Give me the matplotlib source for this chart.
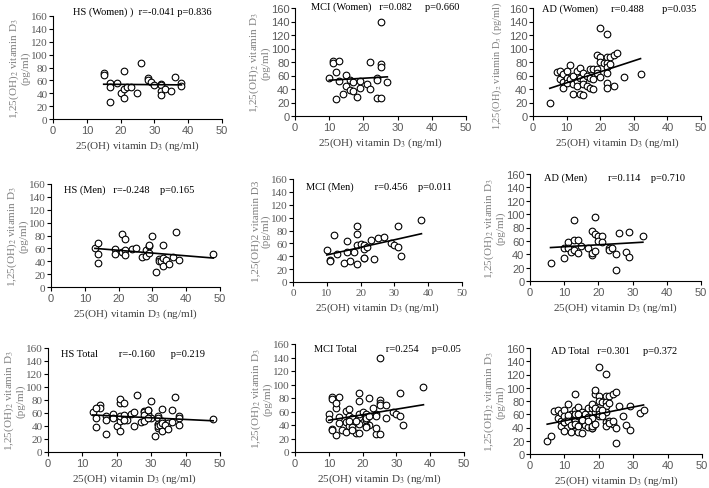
import matplotlib
matplotlib.use("Agg")
import matplotlib.pyplot as plt

plt.rcParams["font.family"] = ["Liberation Serif", "DejaVu Serif"]
plt.rcParams["mathtext.fontset"] = "stix"

# HS (healthy subjects)
hs_w_x = [15, 15, 17, 17, 17, 19, 20, 21, 21, 21, 22, 23, 25, 26, 28, 28, 29, 30,
          32, 32, 32, 32, 33, 35, 36, 38, 38]
hs_w_y = [72, 68, 56, 50, 27, 56, 40, 75, 33, 47, 49, 49, 40, 87, 63, 61, 58, 53,
          55, 53, 43, 37, 47, 44, 65, 56, 52]
hs_m_x = [13, 14, 14, 14, 19, 19, 21, 21, 22, 22, 22, 24, 25, 27, 28, 28, 29, 29,
          29, 30, 31, 32, 32, 32.5, 33, 33, 33, 34, 35, 36, 37, 38, 48]
hs_m_y = [61, 68, 52, 38, 59, 52, 82, 55, 75, 57, 49, 59, 61, 46, 57, 48, 64, 65,
          53, 79, 24, 43, 40, 41, 66, 45, 32, 42, 35, 46, 85, 42, 51]

# MCI
mci_w_x = [10, 11, 11, 12, 12, 13, 13, 14, 15, 15, 16, 16, 17, 17, 18, 19, 19, 21,
           22, 22, 24, 24, 24, 25, 25, 25, 25, 27]
mci_w_y = [56, 81, 78, 65, 25, 82, 52, 32, 61, 44, 53, 38, 50, 37, 28, 42, 52, 47,
           80, 40, 56, 54, 27, 140, 77, 72, 27, 51]
mci_m_x = [10, 11, 11, 12, 13, 15, 16, 16, 17, 18, 19, 19, 19, 19, 20, 21, 21, 21,
           21, 22, 23, 24, 25, 27, 29, 30, 31, 31, 32, 38]
mci_m_y = [49, 34, 32, 73, 43, 30, 64, 46, 32, 46, 87, 75, 28, 57, 59, 57, 51, 38,
           37, 54, 65, 36, 69, 70, 60, 57, 87, 54, 40, 97]

# AD
ad_w_x = [5, 7, 8, 8, 9, 9, 9, 10, 10, 10, 11, 11, 12, 12, 12, 13, 13, 13, 14, 14,
          14, 15, 15, 15, 15, 16, 16, 17, 17, 17, 18, 18, 18, 19, 19, 19, 20, 20,
          20, 20, 21, 22, 22, 22, 22, 22, 22, 22, 23, 23, 24, 24, 25, 27, 32]
ad_w_y = [19, 65, 66, 55, 62, 50, 42, 66, 57, 49, 75, 55, 60, 47, 33, 67, 52, 44,
          71, 57, 33, 64, 53, 47, 31, 60, 44, 69, 56, 41, 69, 55, 40, 91, 69, 63,
          131, 87, 80, 58, 78, 121, 87, 78, 72, 64, 49, 42, 88, 77, 90, 45, 94, 58,
          62]
ad_m_x = [6, 10, 10, 11, 11, 12, 13, 13, 13, 14, 14, 15, 17, 18, 18, 18, 19, 19,
          19, 20, 20, 21, 21, 23, 23, 24, 25, 25, 26, 28, 29, 29, 33]
ad_m_y = [27, 49, 35, 59, 50, 44, 91, 61, 46, 61, 42, 52, 50, 75, 39, 42, 96, 70,
          45, 67, 60, 67, 58, 50, 47, 50, 40, 17, 72, 44, 73, 36, 67]

# trend lines: (x start, x end), (y start, y end)
fits = [
    ([15, 38], [54, 53]),
    ([10, 27], [53, 58]),
    ([5, 32], [41, 85]),
    ([13, 48], [60, 45]),
    ([10, 38], [42, 75]),
    ([6, 33], [50, 58]),
    ([13, 48], [57, 48]),
    ([10, 38], [47, 70]),
    ([5, 33], [45, 74]),
]

titles = [
    "HS (Women) )  r=-0.041 p=0.836",
    "MCI (Women)   r=0.082     p=0.660",
    "AD (Women)     r=0.488       p=0.035",
    "HS (Men)   r=-0.248    p=0.165",
    "MCI (Men)        r=0.456    p=0.011",
    "AD (Men)        r=0.114    p=0.710",
    "HS Total        r=-0.160      p=0.219",
    "MCI Total           r=0.254     p=0.05",
    "AD Total   r=0.301     p=0.372",
]

panels = [
    (hs_w_x, hs_w_y), (mci_w_x, mci_w_y), (ad_w_x, ad_w_y),
    (hs_m_x, hs_m_y), (mci_m_x, mci_m_y), (ad_m_x, ad_m_y),
    (hs_w_x + hs_m_x, hs_w_y + hs_m_y),
    (mci_w_x + mci_m_x, mci_w_y + mci_m_y),
    (ad_w_x + ad_m_x, ad_w_y + ad_m_y),
]

# axes boxes in pixels: left, top, right, bottom
boxes = [
    (53, 17, 222, 120), (295, 9, 466, 117), (533, 9, 701, 117),
    (51, 185, 220, 288), (293, 180, 462, 283), (530, 175, 701, 282),
    (48, 349, 220, 453), (295, 345, 464, 453), (530, 349, 702, 455),
]
title_pos = [(5.9, 168), (4.7, 163), (2.7, 160), (3.8, 152), (3.8, 149),
             (4.1, 155), (3.8, 151), (5.6, 152.6), (6.1, 155.5)]

ylab_std = "1,25(OH)$_2$ vitamin D$_3$\n(pg/ml)"
ylabels = [ylab_std, ylab_std, "1,25(OH)$_2$ vitamin D$_3$ (pg/ml)",
           ylab_std, "1,25(OH)2 vitamin D3\n(pg/ml)", ylab_std,
           ylab_std, ylab_std, ylab_std]
serif_y = [True, False, False, True, True, False, True, True, False]
serif_x = [False, False, False, False, True, False, False, False, False]

W, H = 709, 489
fig = plt.figure(figsize=(W / 100, H / 100), dpi=100)

for i, (xs, ys) in enumerate(panels):
    l, t, r, b = boxes[i]
    ax = fig.add_axes([l / W, 1 - b / H, (r - l) / W, (b - t) / H])
    ax.plot(xs, ys, "o", ms=4.8, mfc="white", mec="black", mew=0.8, zorder=3)
    fx, fy = fits[i]
    ax.plot(fx, fy, "-", color="black", lw=1.2, zorder=4)

    ax.set_xlim(0, 50)
    ax.set_ylim(0, 160)
    ax.set_xticks([0, 10, 20, 30, 40, 50])
    ax.set_yticks(range(0, 161, 20))
    ax.spines["top"].set_visible(False)
    ax.spines["right"].set_visible(False)
    for s in ("left", "bottom"):
        ax.spines[s].set_linewidth(0.8)
    ax.tick_params(length=3, width=0.8, labelsize=8, colors="black",
                   labelcolor="#595959", pad=1)
    for lab in ax.get_yticklabels():
        lab.set_family("Liberation Serif" if serif_y[i] else "Liberation Sans")
    for lab in ax.get_xticklabels():
        lab.set_family("Liberation Serif" if serif_x[i] else "Liberation Sans")

    ax.set_xlabel("25(OH) vitamin D$_3$ (ng/ml)", fontsize=8, color="#404040",
                  labelpad=3)
    ax.set_ylabel(ylabels[i], fontsize=7.5 if i == 2 else 8, color="#7f7f7f",
                  labelpad=0, linespacing=1.0)
    if i == 2:
        ax.yaxis.set_label_coords(-0.17, 0.47)
    tx, ty = title_pos[i]
    ax.text(tx, ty, titles[i], fontsize=7.5, ha="left", va="center",
            color="black")

fig.savefig("out.png", dpi=100)
